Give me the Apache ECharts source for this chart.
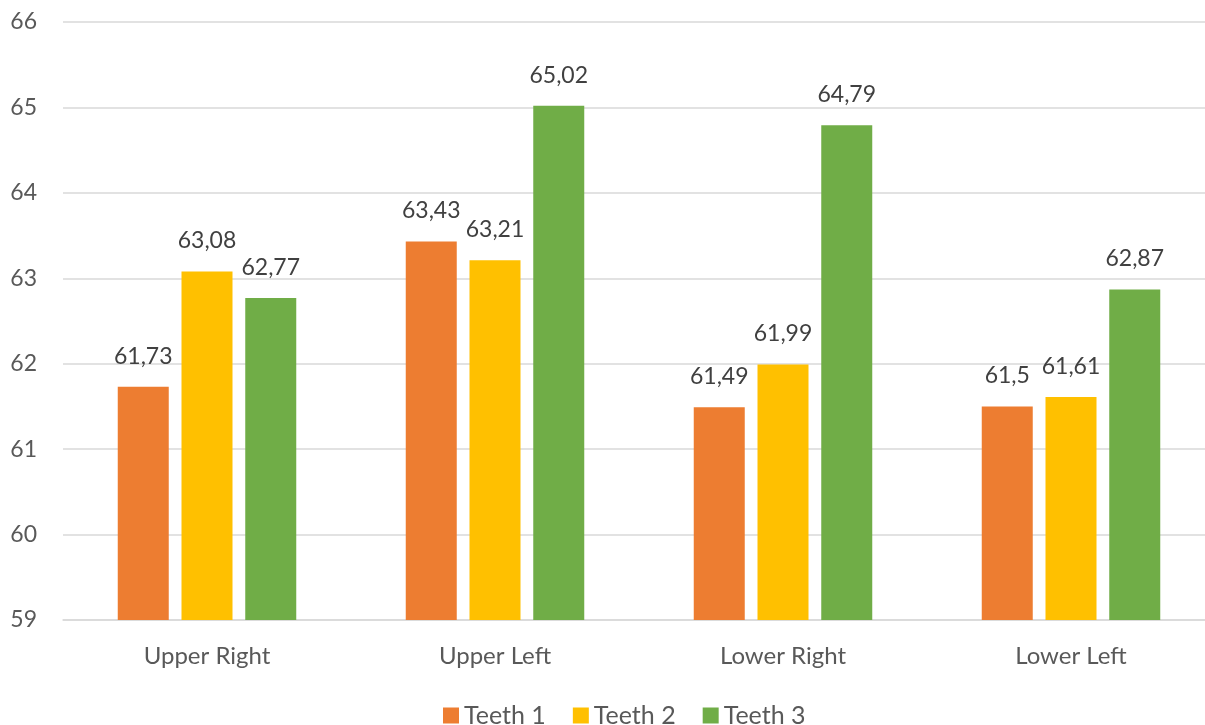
<!DOCTYPE html>
<html>
<head>
<meta charset="utf-8">
<script src="https://cdn.jsdelivr.net/npm/echarts@6/dist/echarts.min.js"></script>
<style>html,body{margin:0;padding:0;background:#fff;overflow:hidden;}#c{width:1205px;height:725px;}</style>
</head>
<body>
<div id="c"></div>
<script>
var categories = ['Upper Right', 'Upper Left', 'Lower Right', 'Lower Left'];
var seriesNames = ['Teeth 1', 'Teeth 2', 'Teeth 3'];
var teeth1 = [61.73, 63.43, 61.49, 61.5];
var teeth2 = [63.08, 63.21, 61.99, 61.61];
var teeth3 = [62.77, 65.02, 64.79, 62.87];
var colors = ['#ED7D31', '#FFC000', '#70AD47'];
var FONT = 'Lato, "Open Sans", sans-serif';

var chart = echarts.init(document.getElementById('c'));
function mk(name, data, color) {
  return {
    name: name, type: 'bar', data: data, barWidth: 51, barGap: '25%',
    itemStyle: { color: color },
    label: {
      show: true, position: 'top', distance: 19,
      color: '#404040', fontSize: 23, fontFamily: FONT,
      formatter: function (p) { return String(p.value).replace('.', ','); }
    }
  };
}
chart.setOption({
  animation: false,
  textStyle: { fontFamily: FONT },
  legend: {
    top: 698, left: 438, itemWidth: 16, itemHeight: 16, itemGap: 27,
    icon: 'rect',
    textStyle: { color: '#595959', fontSize: 25, fontFamily: FONT }
  },
  grid: { left: 63, width: 1152, top: 22, height: 598, outerBoundsMode: 'none', containLabel: false },
  xAxis: {
    type: 'category', data: categories,
    axisLine: { lineStyle: { color: '#D9D9D9', width: 1.5 } },
    axisTick: { show: false },
    axisLabel: { color: '#595959', fontSize: 24, margin: 24, fontFamily: FONT }
  },
  yAxis: {
    type: 'value', min: 59, max: 66, interval: 1,
    axisLine: { show: false }, axisTick: { show: false },
    axisLabel: { color: '#595959', fontSize: 23, margin: 26, fontFamily: FONT },
    splitLine: { lineStyle: { color: '#D9D9D9', width: 1.5 } }
  },
  series: [mk(seriesNames[0], teeth1, colors[0]), mk(seriesNames[1], teeth2, colors[1]), mk(seriesNames[2], teeth3, colors[2])]
});
</script>
</body>
</html>
